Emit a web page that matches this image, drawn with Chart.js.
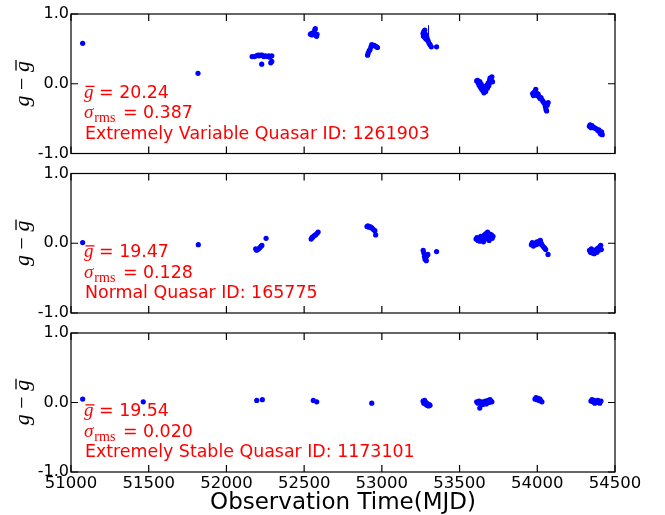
<!DOCTYPE html>
<html>
<head>
<meta charset="utf-8">
<script src="https://cdn.jsdelivr.net/npm/chart.js@4.4.1/dist/chart.umd.min.js"></script>
<style>
  body { margin: 0; background: #fff; }
  #wrap { position: relative; width: 665px; height: 515px; overflow: hidden; }
  .panel { position: absolute; left: 0; }
</style>
</head>
<body>
<div id="wrap">
  <canvas class="panel" id="c1" width="665" height="170" style="top:0px"></canvas>
  <canvas class="panel" id="c2" width="665" height="170" style="top:160px"></canvas>
  <canvas class="panel" id="c3" width="665" height="195" style="top:320px"></canvas>
</div>
<script>
// tick values
const xTicks = [51000, 51500, 52000, 52500, 53000, 53500, 54000, 54500];
const yTicks = [-1, 0, 1];

// panel 1: extremely variable quasar
const mjd1 = [51075, 51817,
  52165, 52180, 52192, 52203, 52210, 52218, 52227, 52229, 52240, 52250, 52262, 52272, 52280, 52285, 52292, 52292,
  52540, 52545, 52550, 52556, 52568, 52572, 52576, 52580, 52583,
  52908, 52912, 52918, 52924, 52930, 52935, 52942, 52950, 52958, 52966, 52972,
  53265, 53268, 53270, 53273, 53276, 53278, 53281, 53284, 53287, 53290, 53294, 53298, 53304, 53310, 53318, 53352,
  53610, 53616, 53620, 53626, 53630, 53634, 53638, 53642, 53646, 53650, 53654, 53657, 53660, 53664, 53668, 53672,
  53676, 53680, 53684, 53688, 53692, 53696, 53700, 53704, 53708, 53712,
  53970, 53975, 53980, 53985, 53990, 53994, 54000, 54006, 54012, 54018, 54024, 54030, 54036, 54042, 54048, 54052,
  54056, 54060, 54064, 54070,
  54335, 54340, 54346, 54352, 54358, 54366, 54374, 54382, 54390, 54396, 54402, 54408, 54414, 54418];
const dg1 = [0.58, 0.15,
  0.39, 0.39, 0.40, 0.41, 0.40, 0.41, 0.28, 0.41, 0.39, 0.40, 0.39, 0.40, 0.38, 0.30, 0.32, 0.40,
  0.71, 0.72, 0.70, 0.73, 0.77, 0.79, 0.70, 0.68, 0.71,
  0.41, 0.44, 0.47, 0.49, 0.53, 0.56, 0.55, 0.55, 0.54, 0.53, 0.52,
  0.72, 0.68, 0.75, 0.70, 0.77, 0.66, 0.71, 0.64, 0.69, 0.66, 0.63, 0.61, 0.58, 0.56, 0.53, 0.53,
  0.04, 0.05, 0.01, -0.02, 0.03, -0.05, 0.00, -0.08, -0.03, -0.10, -0.06, -0.13, -0.09, -0.04, -0.11, -0.07,
  -0.02, -0.06, 0.01, -0.03, 0.04, 0.08, 0.02, 0.05, 0.10, 0.03,
  -0.14, -0.17, -0.12, -0.16, -0.08, -0.13, -0.17, -0.15, -0.19, -0.21, -0.20, -0.23, -0.25, -0.27, -0.29, -0.33,
  -0.37, -0.39, -0.31, -0.27,
  -0.61, -0.59, -0.63, -0.60, -0.62, -0.63, -0.64, -0.65, -0.67, -0.66, -0.70, -0.72, -0.69, -0.73];
// visible error bars: [mjd, low, high]
const errBars1 = [[53300, 0.56, 0.84]];

// panel 2: normal quasar
const mjd2 = [51075, 51819,
  52188, 52194, 52200, 52208, 52216, 52224, 52228, 52255,
  52545, 52550, 52557, 52565, 52573, 52582, 52590,
  52904, 52910, 52916, 52922, 52928, 52936, 52944, 52955, 52960,
  53266, 53270, 53274, 53278, 53282, 53286, 53290, 53296, 53352,
  53606, 53612, 53618, 53624, 53630, 53636, 53642, 53648, 53654, 53660, 53665, 53670, 53675, 53680, 53685, 53690,
  53695, 53700, 53705, 53710, 53715,
  53962, 53968, 53975, 53982, 53990, 53998, 54006, 54014, 54020, 54026, 54032, 54040, 54048, 54054, 54069,
  54336, 54342, 54348, 54354, 54360, 54366, 54372, 54378, 54384, 54390, 54396, 54402, 54408, 54412];
const dg2 = [0.01, -0.02,
  -0.08, -0.10, -0.09, -0.08, -0.06, -0.04, -0.03, 0.07,
  0.06, 0.08, 0.09, 0.11, 0.12, 0.14, 0.16,
  0.24, 0.25, 0.23, 0.24, 0.23, 0.22, 0.20, 0.18, 0.12,
  -0.10, -0.14, -0.19, -0.23, -0.21, -0.25, -0.18, -0.16, -0.12,
  0.06, 0.08, 0.04, 0.07, 0.03, 0.10, 0.05, 0.09, 0.02, 0.12, 0.06, 0.14, 0.08, 0.16, 0.11, 0.04,
  0.13, 0.09, 0.12, 0.07, 0.10,
  -0.02, 0.01, -0.04, 0.00, -0.02, 0.02, -0.01, 0.03, 0.04, 0.00, -0.03, -0.05, -0.07, -0.09, -0.16,
  -0.10, -0.13, -0.08, -0.14, -0.11, -0.15, -0.12, -0.09, -0.13, -0.07, -0.10, -0.05, -0.03, -0.09];
const errBars2 = [];

// panel 3: extremely stable quasar
const mjd3 = [51075, 51465, 52195, 52231, 52559, 52581, 52935,
  53265, 53270, 53275, 53280, 53285, 53290, 53295, 53300, 53305, 53310,
  53610, 53618, 53625, 53632, 53640, 53645, 53650, 53656, 53660, 53666, 53672, 53678, 53684, 53690, 53696, 53702,
  53708, 53630,
  53985, 53992, 53998, 54005, 54012, 54018, 54024, 54030,
  54345, 54352, 54358, 54364, 54370, 54376, 54382, 54390, 54396, 54402, 54410];
const dg3 = [0.05, 0.01, 0.03, 0.04, 0.03, 0.01, -0.01,
  0.02, -0.01, 0.03, -0.02, 0.00, -0.04, -0.02, -0.05, -0.03, -0.04,
  0.01, -0.01, 0.02, 0.00, -0.02, 0.01, -0.03, 0.00, -0.01, 0.02, -0.02, 0.01, 0.03, 0.00, 0.04, 0.02,
  0.01, -0.08,
  0.05, 0.07, 0.04, 0.06, 0.03, 0.05, 0.02, 0.01,
  0.02, 0.04, 0.01, 0.03, -0.01, 0.02, 0.00, 0.03, 0.01, -0.01, 0.02];
const errBars3 = [];

const meanMags = ['20.24', '19.47', '19.54'];
const rmsVals = ['0.387', '0.128', '0.020'];
const quasarLabels = ['Extremely Variable Quasar ID: 1261903',
  'Normal Quasar ID: 165775',
  'Extremely Stable Quasar ID: 1173101'];

Chart.defaults.font.family = 'DejaVu Sans';
Chart.defaults.color = '#000';

const SERIF = '"Liberation Serif", "DejaVu Serif", serif';
const SANS = '"DejaVu Sans", sans-serif';

// draws g with a bar on top, returns its width
function barG(ctx, x, y, size) {
  ctx.font = 'italic ' + size + 'px ' + SERIF;
  const w = ctx.measureText('g').width;
  ctx.fillText('g', x, y);
  ctx.fillRect(x + 1.5, y - size * 0.62, w - 0.5, 1.3);
  return w;
}

const framePlugin = {
  id: 'frame',
  afterDatasetsDraw(chart, args, opts) {
    const ctx = chart.ctx;
    const a = chart.chartArea;
    const xs = chart.scales.x, ys = chart.scales.y;
    ctx.save();

    // error bars
    ctx.strokeStyle = 'blue';
    ctx.lineWidth = 1;
    opts.errs.forEach(e => {
      const px = xs.getPixelForValue(e[0]);
      ctx.beginPath();
      ctx.moveTo(px, ys.getPixelForValue(e[1]));
      ctx.lineTo(px, ys.getPixelForValue(e[2]));
      ctx.stroke();
    });

    // box and inward ticks on all four sides
    ctx.strokeStyle = '#000';
    ctx.lineWidth = 1.2;
    ctx.strokeRect(a.left, a.top, a.right - a.left, a.bottom - a.top);
    const tl = 7;
    ctx.beginPath();
    xTicks.forEach(v => {
      const px = xs.getPixelForValue(v);
      ctx.moveTo(px, a.bottom); ctx.lineTo(px, a.bottom - tl);
      ctx.moveTo(px, a.top); ctx.lineTo(px, a.top + tl);
    });
    yTicks.forEach(v => {
      const py = ys.getPixelForValue(v);
      ctx.moveTo(a.left, py); ctx.lineTo(a.left + tl, py);
      ctx.moveTo(a.right, py); ctx.lineTo(a.right - tl, py);
    });
    ctx.stroke();

    // y axis title: g - gbar
    ctx.fillStyle = '#000';
    ctx.save();
    ctx.translate(29, (a.top + a.bottom) / 2);
    ctx.rotate(-Math.PI / 2);
    ctx.font = 'italic 22px ' + SERIF;
    const gw = ctx.measureText('g').width;
    const mid = ' \u2212 ';
    ctx.font = '22px ' + SERIF;
    const mw = ctx.measureText(mid).width;
    let tx = -(gw * 2 + mw) / 2;
    ctx.font = 'italic 22px ' + SERIF;
    ctx.fillText('g', tx, 0);
    tx += gw;
    ctx.font = '22px ' + SERIF;
    ctx.fillText(mid, tx, 0);
    tx += mw;
    barG(ctx, tx, 0, 22);
    ctx.restore();

    // red annotation
    const i = opts.idx;
    ctx.fillStyle = 'red';
    let x = a.left + 13;
    let y = a.bottom - 56;
    const w = barG(ctx, x, y, 19);
    ctx.font = '17.4px ' + SANS;
    ctx.fillText(' = ' + meanMags[i], x + w, y);

    y = a.bottom - 35.5;
    ctx.font = 'italic 19px ' + SERIF;
    ctx.fillText('\u03c3', x, y);
    let sx = x + ctx.measureText('\u03c3').width + 1;
    ctx.font = '14px ' + SERIF;
    ctx.fillText('rms', sx, y + 4);
    sx += ctx.measureText('rms').width + 2;
    ctx.font = '17.4px ' + SANS;
    ctx.fillText(' = ' + rmsVals[i], sx, y);

    y = a.bottom - 15;
    ctx.fillText(quasarLabels[i], x + 1, y);

    ctx.restore();
  }
};

function makePanel(id, idx, mjd, dg, errs, showX, padTop, padBottom) {
  const pts = mjd.map((m, k) => ({ x: m, y: dg[k] }));
  const xScale = {
    type: 'linear',
    min: 51000,
    max: 54500,
    display: showX,
    grid: { display: false, drawTicks: false, tickLength: 0 },
    border: { display: false },
    afterBuildTicks: s => { s.ticks = xTicks.map(v => ({ value: v })); },
    ticks: { font: { size: 16.5 }, padding: 2, maxRotation: 0, color: '#000', callback: v => String(v) },
    title: { display: showX, text: 'Observation Time(MJD)', font: { size: 23, lineHeight: 1.0 }, padding: { top: 0, bottom: 0 }, color: '#000' }
  };
  if (showX) xScale.afterFit = s => { s.height = 43; };
  new Chart(document.getElementById(id), {
    type: 'scatter',
    data: {
      datasets: [{
        data: pts,
        backgroundColor: '#0000ff',
        borderWidth: 0,
        pointRadius: 2.6,
        pointHoverRadius: 2.6
      }]
    },
    options: {
      responsive: false,
      animation: false,
      layout: { padding: { left: 0, right: 50, top: padTop, bottom: padBottom } },
      plugins: {
        legend: { display: false },
        tooltip: { enabled: false },
        frame: { idx: idx, errs: errs }
      },
      scales: {
        x: xScale,
        y: {
          min: -1,
          max: 1,
          grid: { display: false, drawTicks: false, tickLength: 0 },
          border: { display: false },
          afterBuildTicks: s => { s.ticks = yTicks.map(v => ({ value: v })); },
          afterFit: s => { s.width = 71; },
          ticks: { font: { size: 16 }, padding: 2, color: '#000', callback: v => v.toFixed(1) }
        }
      }
    },
    plugins: [framePlugin]
  });
}

makePanel('c1', 0, mjd1, dg1, errBars1, false, 14, 16.5);
makePanel('c2', 1, mjd2, dg2, errBars2, false, 13.5, 17);
makePanel('c3', 2, mjd3, dg3, errBars3, true, 13, 0);
</script>
</body>
</html>
